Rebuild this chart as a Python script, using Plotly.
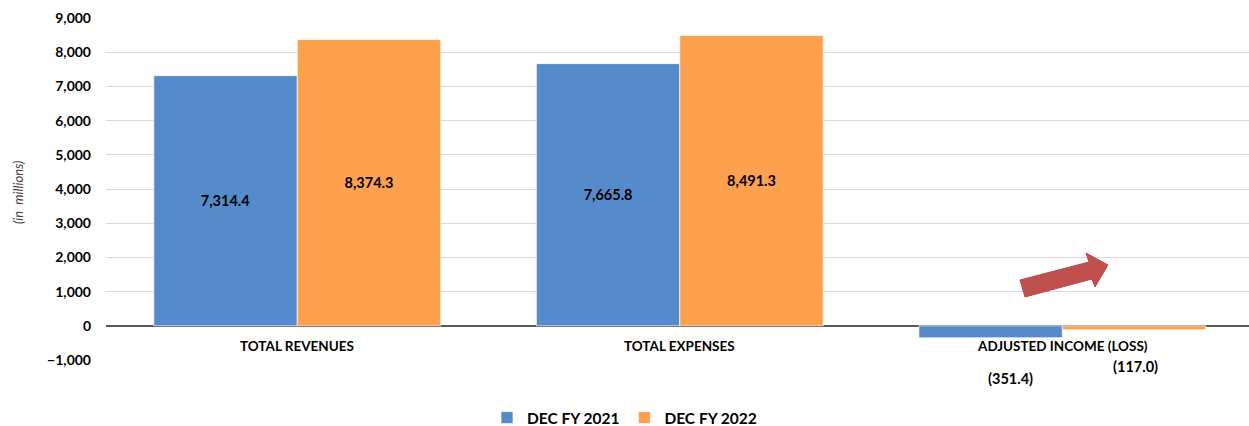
import plotly.graph_objects as go

categories = ["TOTAL REVENUES", "TOTAL EXPENSES", "ADJUSTED INCOME (LOSS)"]
fy2021 = [7314.4, 7665.8, -351.4]
fy2022 = [8374.3, 8491.3, -117.0]
series_names = ["DEC FY 2021", "DEC FY 2022"]
tick_vals = [-1000, 0, 1000, 2000, 3000, 4000, 5000, 6000, 7000, 8000, 9000]

BLUE = "#568BCB"
ORANGE = "#FDA14F"
FONT = "Lato, 'Open Sans', sans-serif"

W, H = 1249, 426
ML, MR, MT, MB = 106, 0, 18, 66
Y0, Y1 = -1000, 9000


def fmt(v):
    return f"({abs(v):,.1f})" if v < 0 else f"{v:,.1f}"


def px_to_paper(px, py):
    return (px - ML) / (W - ML - MR), (H - MB - py) / (H - MT - MB)


fig = go.Figure()
for name, vals, color in [(series_names[0], fy2021, BLUE), (series_names[1], fy2022, ORANGE)]:
    fig.add_trace(go.Bar(
        x=categories, y=vals, name=name,
        marker=dict(color=color, line=dict(color="rgba(255,255,255,0.7)", width=1)),
        text=[fmt(v) if v > 0 else "" for v in vals],
        textposition="inside", insidetextanchor="middle",
        textfont=dict(family=FONT, size=14.5, color="#000000", weight="bold"),
        cliponaxis=False,
    ))

annotations = []
# category labels sit just under the zero line
for c in categories:
    annotations.append(dict(x=c, y=-585, xref="x", yref="y", text=c, showarrow=False,
                            xanchor="center", yanchor="middle",
                            font=dict(family=FONT, size=13.5, color="#000000", weight="bold")))
# labels for the negative values
neg_pos = [(fy2021[2], 1010, 378), (fy2022[2], 1135, 367)]
for v, lx, ly in neg_pos:
    xp, yp = px_to_paper(lx, ly)
    annotations.append(dict(x=xp, y=yp, xref="paper", yref="paper", text=fmt(v), showarrow=False,
                            xanchor="center", yanchor="middle",
                            font=dict(family=FONT, size=14.5, color="#000000", weight="bold")))
# axis title
xp, yp = px_to_paper(18, 193)
annotations.append(dict(x=xp, y=yp, xref="paper", yref="paper", text="<i>(in  millions)</i>",
                        showarrow=False, textangle=-90, xanchor="center", yanchor="middle",
                        font=dict(family=FONT, size=13, color="#404040")))

# red block arrow pointing up-right
arrow_px = [(1020, 280), (1089, 262), (1086, 253), (1108, 265), (1095, 287), (1092, 279), (1025, 297)]
pts = [px_to_paper(a, b) for a, b in arrow_px]
path = "M " + " L ".join(f"{a:.5f},{b:.5f}" for a, b in pts) + " Z"

fig.update_layout(
    width=W, height=H,
    margin=dict(l=ML, r=MR, t=MT, b=MB, autoexpand=False),
    plot_bgcolor="white", paper_bgcolor="white",
    barmode="group", bargap=0.25, bargroupgap=0,
    font=dict(family=FONT, color="#000000"),
    xaxis=dict(showticklabels=False, showgrid=False, showline=False, ticks="",
               range=[-0.5, 2.488]),
    yaxis=dict(range=[Y0, Y1], tickvals=tick_vals, tickformat=",d",
               showgrid=True, gridcolor="#D9D9D9", gridwidth=1,
               zeroline=True, zerolinecolor="#595959", zerolinewidth=1.5,
               tickfont=dict(family=FONT, size=14, color="#000000", weight="bold"),
               ticks="", ticklabelstandoff=14, showline=False),
    legend=dict(orientation="h", x=0.5, xanchor="center", xref="container",
                y=1 - 418 / H, yanchor="middle", yref="container",
                font=dict(family=FONT, size=15.5, color="#000000", weight="bold"),
                itemwidth=30, traceorder="normal"),
    annotations=annotations,
    shapes=[dict(type="path", path=path, xref="paper", yref="paper",
                 fillcolor="#C0504D", line=dict(color="#B84A47", width=1))],
)

fig.write_html("out.html")
